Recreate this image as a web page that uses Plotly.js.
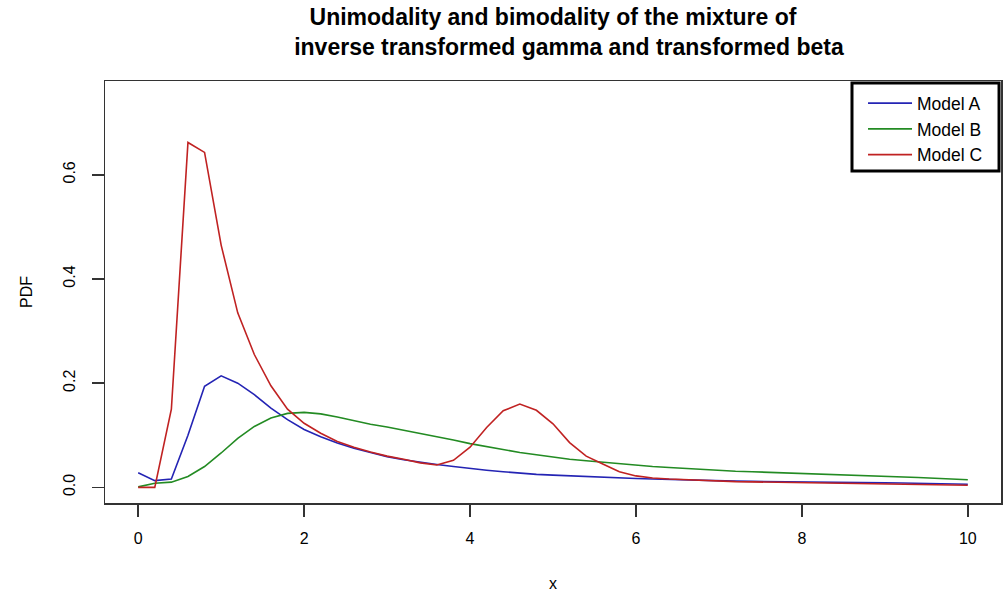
<!DOCTYPE html>
<html>
<head>
<meta charset="utf-8">
<script src="https://cdn.plot.ly/plotly-3.0.1.min.js"></script>
<style>
  html, body { margin: 0; padding: 0; background: #ffffff; }
  #chart { width: 1003px; height: 597px; }
</style>
</head>
<body>
<div id="chart"></div>
<script>
// x grid
const xValues = [0, 0.2, 0.4, 0.6, 0.8, 1.0, 1.2, 1.4, 1.6, 1.8,
  2.0, 2.2, 2.4, 2.6, 2.8, 3.0, 3.2, 3.4, 3.6, 3.8,
  4.0, 4.2, 4.4, 4.6, 4.8, 5.0, 5.2, 5.4, 5.6, 5.8,
  6.0, 6.2, 6.4, 6.6, 6.8, 7.0, 7.2, 7.4, 7.6, 7.8,
  8.0, 8.2, 8.4, 8.6, 8.8, 9.0, 9.2, 9.4, 9.6, 9.8, 10.0];

// Model A (blue)
const modelA = [0.028, 0.013, 0.016, 0.100, 0.194, 0.214, 0.200, 0.178, 0.152, 0.130,
  0.111, 0.097, 0.085, 0.075, 0.067, 0.059, 0.053, 0.048, 0.044, 0.040,
  0.036, 0.033, 0.030, 0.027, 0.025, 0.0235, 0.022, 0.021, 0.019, 0.018,
  0.017, 0.016, 0.015, 0.014, 0.013, 0.0125, 0.012, 0.0115, 0.011, 0.0105,
  0.010, 0.0098, 0.0095, 0.0092, 0.009, 0.0087, 0.0085, 0.0078, 0.007, 0.0065, 0.006];

// Model B (green)
const modelB = [0.001, 0.008, 0.010, 0.021, 0.040, 0.066, 0.094, 0.117, 0.133, 0.142,
  0.144, 0.141, 0.135, 0.128, 0.121, 0.116, 0.110, 0.104, 0.098, 0.091,
  0.084, 0.078, 0.072, 0.067, 0.0625, 0.058, 0.054, 0.051, 0.048, 0.045,
  0.042, 0.040, 0.038, 0.036, 0.035, 0.033, 0.031, 0.030, 0.029, 0.027,
  0.026, 0.025, 0.024, 0.023, 0.022, 0.021, 0.020, 0.019, 0.0175, 0.016, 0.0145];

// Model C (red)
const modelC = [0.000, 0.000, 0.150, 0.662, 0.643, 0.465, 0.335, 0.255, 0.195, 0.150,
  0.123, 0.104, 0.088, 0.077, 0.068, 0.060, 0.054, 0.047, 0.043, 0.052,
  0.077, 0.115, 0.147, 0.160, 0.148, 0.122, 0.086, 0.060, 0.045, 0.030,
  0.022, 0.018, 0.016, 0.0145, 0.013, 0.012, 0.011, 0.0105, 0.010, 0.0095,
  0.009, 0.0087, 0.0085, 0.0082, 0.008, 0.0077, 0.0072, 0.0068, 0.006, 0.005, 0.004];

const seriesNames = ["Model A", "Model B", "Model C"];
const xTicks = [0, 2, 4, 6, 8, 10];
const yTicks = [0.0, 0.2, 0.4, 0.6];
const yTickText = ["0.0", "0.2", "0.4", "0.6"];

const colors = ["#2424b4", "#238b23", "#c02222"];
const seriesData = [modelA, modelB, modelC];

const traces = seriesData.map((ys, i) => ({
  type: "scatter",
  mode: "lines",
  x: xValues,
  y: ys,
  name: seriesNames[i],
  line: { color: colors[i], width: 1.6 }
}));

const fontFam = "Liberation Sans, Arial, sans-serif";

const layout = {
  width: 1003,
  height: 597,
  paper_bgcolor: "#ffffff",
  plot_bgcolor: "#ffffff",
  margin: { l: 105, r: 2, t: 81, b: 94 },
  title: {
    text: "<b>Unimodality and bimodality of the mixture of</b><br><b>\u00a0\u00a0\u00a0\u00a0\u00a0inverse transformed gamma and transformed beta</b>",
    font: { family: fontFam, size: 23, color: "#000000" },
    x: 0.5, xref: "paper", xanchor: "center",
    y: 0.958, yref: "container", yanchor: "top"
  },
  font: { family: fontFam, size: 16, color: "#000000" },
  showlegend: true,
  legend: {
    x: 0.846, xanchor: "left",
    y: 0.99, yanchor: "top",
    bgcolor: "rgba(0,0,0,0)",
    borderwidth: 0,
    font: { family: fontFam, size: 17.5, color: "#000000" },
    itemwidth: 44
  },
  xaxis: {
    range: [-0.4, 10.4],
    tickvals: xTicks,
    ticktext: xTicks.map(String),
    ticks: "outside",
    ticklen: 12,
    tickwidth: 1.5,
    tickcolor: "#333333",
    showline: true,
    linecolor: "#333333",
    linewidth: 1.5,
    mirror: true,
    showgrid: false,
    zeroline: false,
    ticklabelstandoff: 8,
    tickfont: { family: fontFam, size: 16, color: "#000000" },
    title: { text: "x", font: { family: fontFam, size: 16, color: "#000000" }, standoff: 32 }
  },
  yaxis: {
    range: [-0.03, 0.78],
    tickvals: yTicks,
    ticktext: yTickText,
    tickangle: -90,
    ticks: "outside",
    ticklen: 12,
    tickwidth: 1.5,
    tickcolor: "#333333",
    showline: true,
    linecolor: "#333333",
    linewidth: 1.5,
    mirror: true,
    showgrid: false,
    zeroline: false,
    ticklabelstandoff: 10,
    tickfont: { family: fontFam, size: 16, color: "#000000" },
    title: { text: "PDF", font: { family: fontFam, size: 16, color: "#000000" }, standoff: 24 }
  },
  shapes: [
    {
      type: "rect", xref: "paper", yref: "paper",
      x0: 0.8337, x1: 0.9978, y0: 0.7867, y1: 0.9953,
      line: { color: "#000000", width: 3 },
      fillcolor: "rgba(0,0,0,0)",
      layer: "above"
    }
  ]
};

Plotly.newPlot("chart", traces, layout, { displayModeBar: false, staticPlot: true });
</script>
</body>
</html>
